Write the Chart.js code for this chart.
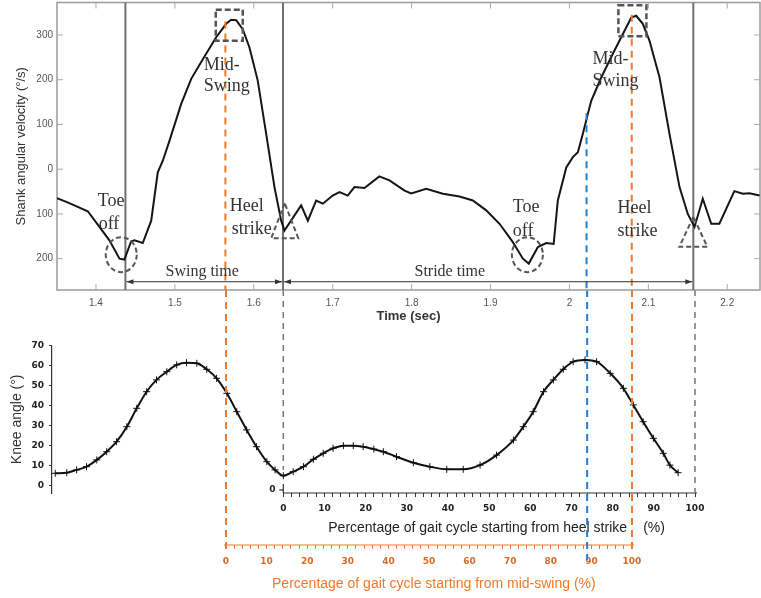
<!DOCTYPE html>
<html>
<head>
<meta charset="utf-8">
<script src="https://cdn.jsdelivr.net/npm/chart.js@4.4.1/dist/chart.umd.min.js"></script>
<style>
  body { margin: 0; background: #fff; }
  #wrap { position: relative; width: 761px; height: 598px; }
  canvas { position: absolute; left: 0; top: 0; }
</style>
</head>
<body>
<div id="wrap">
  <canvas id="kneeChart" width="761" height="598"></canvas>
  <canvas id="shankChart" width="761" height="598"></canvas>
</div>
<script>
// shank angular velocity (deg/s) against time (sec)
const timeSec = [1.3506, 1.364, 1.3896, 1.4044, 1.417, 1.4298, 1.436, 1.4446, 1.4488, 1.4593, 1.47, 1.4783,
  1.4847, 1.4932, 1.508, 1.5207, 1.5354, 1.5523, 1.565, 1.5713, 1.5777, 1.586, 1.5945, 1.605, 1.6157, 1.6262,
  1.6347, 1.6389, 1.66, 1.6685, 1.679, 1.6875, 1.70, 1.7086, 1.719, 1.7276, 1.7403, 1.759, 1.772, 1.791,
  1.7995, 1.8185, 1.8396, 1.8607, 1.8776, 1.8945, 1.9114, 1.9283, 1.941, 1.9485, 1.96, 1.9706, 1.98, 1.9853,
  1.996, 2.0043, 2.0107, 2.017, 2.0276, 2.0403, 2.055, 2.07, 2.0783, 2.0846, 2.093, 2.1015, 2.1142, 2.1268,
  2.1395, 2.15, 2.1585, 2.169, 2.1797, 2.19, 2.209, 2.2198, 2.228, 2.241];
const shankVel = [-65, -74, -94, -129, -159, -200, -202, -161, -159, -165, -115, -7,
  19, 64, 146, 202, 246, 295, 325, 334, 333, 313, 272, 198, 79, -40,
  -115, -137, -81, -115, -70, -77, -59, -51, -59, -40, -42, -16, -25, -48,
  -54, -44, -55, -61, -70, -92, -122, -163, -200, -211, -174, -165, -167, -70,
  4, 27, 38, 79, 153, 205, 258, 310, 339, 343, 325, 287, 205, 79,
  -40, -100, -129, -66, -122, -122, -49, -55, -54, -59];

// knee angle (deg) against % of gait cycle from heel strike
const heelPct = [-55.4, -52.6, -50.2, -47.8, -45.3, -42.9, -40.5, -38, -35.6, -33.2, -30.8, -28.3, -25.9,
  -23.5, -21, -18.6, -16.2, -13.7, -11.3, -8.9, -6.5, -4, -2, 0, 2.4, 4.9, 7.3, 9.7, 12.1, 14.6, 17, 19.4,
  22, 24.3, 27.5, 31.6, 35.6, 39.7, 43.7, 47.8, 51.8, 55.9, 58.3, 60.7, 63.2, 65.6, 68, 70.4, 73.3, 76.1,
  79.4, 82.6, 85, 87.4, 89.9, 92.3, 93.9, 95.9];
const kneeAngle = [6.2, 6.5, 7.9, 9.5, 12.9, 17, 22, 29.5, 38.7, 47, 52.9, 57, 60.4,
  61.5, 61.2, 58.2, 53.7, 46.2, 37, 27.9, 19.5, 12, 7.9, 5, 7, 9.5, 13.2, 16.2, 18.7, 20, 20, 19.5,
  18.3, 17, 14.5, 11.5, 9.5, 8.2, 8.2, 10.3, 15.3, 22.8, 29.5, 37, 47, 52.9, 58.2, 62, 62.9, 62,
  56.2, 48.7, 40.4, 32, 23.7, 16.2, 10.3, 6.5];

// tick labels
const timeTicks = [1.4, 1.5, 1.6, 1.7, 1.8, 1.9, 2, 2.1, 2.2];
const velTicks = [-200, -100, 0, 100, 200, 300];
const kneeTicks = [0, 10, 20, 30, 40, 50, 60, 70];
const pctLabels = [0, 10, 20, 30, 40, 50, 60, 70, 80, 90, 100];
const pctMinor = Array.from({length: 51}, (_, i) => i * 2);

// gait events (sec)
const toeOffTimes = [1.4373];
const heelStrikeTimes = [1.637, 2.157];
const midSwingTimes = [1.564, 2.079];
const blueTime = 2.0217;     // same instant as 73.8 % of heel-strike cycle
const bluePct = 73.8;

const ORANGE = '#f2782a';
const BLUE = '#1f80d6';
const GREY = '#777';

function seg(ctx, x1, y1, x2, y2) {
  ctx.beginPath(); ctx.moveTo(x1, y1); ctx.lineTo(x2, y2); ctx.stroke();
}

function arrowHead(ctx, x, y, dir) {
  ctx.beginPath();
  ctx.moveTo(x, y);
  ctx.lineTo(x - dir * 7, y - 2.5);
  ctx.lineTo(x - dir * 7, y + 2.5);
  ctx.closePath();
  ctx.fill();
}

// no extra room for the first/last tick labels, the layout padding decides
function noEdgePad(s) {
  s.paddingTop = 0; s.paddingBottom = 0; s.paddingLeft = 0; s.paddingRight = 0;
}

const shankDecor = {
  id: 'shankDecor',
  beforeDatasetsDraw(chart) {
    const {ctx, chartArea: a, scales: {x, y}} = chart;
    ctx.save();
    ctx.strokeStyle = '#9a9a9a';
    ctx.lineWidth = 1.5;
    ctx.strokeRect(a.left, a.top, a.right - a.left, a.bottom - a.top);
    ctx.lineWidth = 1;
    ctx.strokeStyle = '#aaa';
    x.ticks.forEach(t => {
      const px = x.getPixelForValue(t.value);
      seg(ctx, px, a.bottom, px, a.bottom - 6);
      seg(ctx, px, a.top, px, a.top + 6);
    });
    y.ticks.forEach(t => {
      const py = y.getPixelForValue(t.value);
      seg(ctx, a.left, py, a.left + 6, py);
      seg(ctx, a.right, py, a.right - 6, py);
    });
    // event lines
    ctx.strokeStyle = '#707070';
    ctx.lineWidth = 2;
    toeOffTimes.concat(heelStrikeTimes).forEach(t => {
      const px = x.getPixelForValue(t);
      seg(ctx, px, a.top, px, a.bottom);
    });
    ctx.restore();
  },
  afterDatasetsDraw(chart) {
    const {ctx, chartArea: a, scales: {x, y}} = chart;
    const X = v => x.getPixelForValue(v), Y = v => y.getPixelForValue(v);
    ctx.save();

    // coloured dashed markers
    ctx.lineWidth = 2;
    ctx.setLineDash([7, 5]);
    ctx.strokeStyle = ORANGE;
    seg(ctx, X(midSwingTimes[0]), Y(330), X(midSwingTimes[0]), a.bottom);
    seg(ctx, X(midSwingTimes[1]), Y(345), X(midSwingTimes[1]), a.bottom);
    ctx.strokeStyle = BLUE;
    seg(ctx, X(blueTime), Y(125), X(blueTime), a.bottom);

    // toe-off circles
    ctx.strokeStyle = '#555';
    ctx.lineWidth = 2;
    ctx.setLineDash([5, 3]);
    [[1.432, -191], [1.9467, -191]].forEach(([t, v]) => {
      ctx.beginPath();
      ctx.ellipse(X(t), Y(v), 15.5, 17.5, 0, 0, Math.PI * 2);
      ctx.stroke();
    });
    // mid-swing squares
    ctx.lineWidth = 2.5;
    ctx.setLineDash([6, 3]);
    [[1.5689, 322, 27, 31], [2.0798, 332, 28, 31]].forEach(([t, v, w, h]) => {
      ctx.strokeRect(X(t) - w / 2, Y(v) - h / 2, w, h);
    });
    // heel-strike triangles
    ctx.lineWidth = 2;
    ctx.setLineDash([5, 3]);
    [[1.6392, -115, 27, 35], [2.157, -140, 28, 30]].forEach(([t, v, w, h]) => {
      const cx = X(t), cy = Y(v);
      ctx.beginPath();
      ctx.moveTo(cx, cy - h / 2);
      ctx.lineTo(cx - w / 2, cy + h / 2);
      ctx.lineTo(cx + w / 2, cy + h / 2);
      ctx.closePath();
      ctx.stroke();
    });

    // labels
    ctx.setLineDash([]);
    ctx.fillStyle = '#333';
    ctx.font = '18px "Liberation Serif"';
    ctx.textBaseline = 'alphabetic';
    ctx.textAlign = 'left';
    [['Toe', 1.4022, -82], ['off', 1.4034, -134], ['Mid-', 1.5365, 222], ['Swing', 1.5365, 175],
     ['Heel', 1.5695, -93], ['strike', 1.572, -145], ['Toe', 1.9283, -96], ['off', 1.9283, -149],
     ['Mid-', 2.0293, 236], ['Swing', 2.0293, 186], ['Heel', 2.061, -98], ['strike', 2.061, -149]]
      .forEach(([s, t, v]) => ctx.fillText(s, X(t), Y(v)));

    ctx.font = '16px "Liberation Serif"';
    ctx.textAlign = 'center';
    ctx.fillText('Swing time', X(1.5346), Y(-239));
    ctx.fillText('Stride time', X(1.8484), Y(-239));

    // time arrows
    const ay = Y(-251.5);
    ctx.strokeStyle = '#333';
    ctx.lineWidth = 1;
    const spans = [[toeOffTimes[0], heelStrikeTimes[0]], [heelStrikeTimes[0], heelStrikeTimes[1]]];
    spans.forEach(([t1, t2]) => {
      const x1 = X(t1) + 1, x2 = X(t2) - 1;
      seg(ctx, x1, ay, x2, ay);
      arrowHead(ctx, x1, ay, -1);
      arrowHead(ctx, x2, ay, 1);
    });
    ctx.restore();
  }
};

const shankChart = new Chart(document.getElementById('shankChart'), {
  type: 'line',
  data: {
    datasets: [{
      data: timeSec.map((t, i) => ({x: t, y: shankVel[i]})),
      borderColor: '#151515',
      borderWidth: 2,
      pointRadius: 0,
      tension: 0
    }]
  },
  options: {
    responsive: false,
    animation: false,
    devicePixelRatio: 1,
    layout: {padding: {top: 2.5, right: 1, left: 0, bottom: 268}},
    plugins: {legend: {display: false}, tooltip: {enabled: false}},
    scales: {
      x: {
        type: 'linear', min: 1.3506, max: 2.2415,
        afterBuildTicks: s => { s.ticks = timeTicks.map(v => ({value: v})); },
        afterFit: s => { s.height = 40; noEdgePad(s); },
        grid: {display: false, drawTicks: false},
        border: {display: false},
        ticks: {color: '#555', font: {family: 'Liberation Sans', size: 10}, padding: 7,
          maxRotation: 0, autoSkip: false, callback: v => String(v)},
        title: {display: true, text: 'Time (sec)', color: '#333',
          font: {family: 'Liberation Sans', size: 13, weight: 'bold'}, padding: {top: 0, bottom: 6}}
      },
      y: {
        min: -270, max: 372.6,
        afterBuildTicks: s => { s.ticks = velTicks.map(v => ({value: v})); },
        afterFit: s => { s.width = 57; noEdgePad(s); },
        grid: {display: false, drawTicks: false},
        border: {display: false},
        ticks: {color: '#555', font: {family: 'Liberation Sans', size: 10}, padding: 4,
          callback: v => String(Math.abs(v))},
        title: {display: true, text: 'Shank angular velocity (°/s)', color: '#333',
          font: {family: 'Liberation Sans', size: 13}, padding: {top: 14, bottom: 0}}
      }
    }
  },
  plugins: [shankDecor]
});

const kneeDecor = {
  id: 'kneeDecor',
  afterDraw(chart) {
    const {ctx, chartArea: a, scales: {x, x2, y}} = chart;
    const joinY = shankChart.chartArea.bottom;
    ctx.save();

    // heel-strike axis line and its little y-origin
    ctx.strokeStyle = '#333';
    ctx.lineWidth = 1.2;
    const x0 = x.getPixelForValue(0);
    seg(ctx, x0, a.bottom, x.getPixelForValue(100) + 2, a.bottom);
    seg(ctx, x0, a.bottom - 9, x0, a.bottom);
    seg(ctx, x0 - 4, a.bottom - 3, x0, a.bottom - 3);
    ctx.fillStyle = '#222';
    ctx.font = 'bold 9px "DejaVu Sans"';
    ctx.textAlign = 'center';
    ctx.textBaseline = 'middle';
    ctx.fillText('0', x0 - 11, a.bottom - 3);

    // mid-swing axis line
    ctx.strokeStyle = ORANGE;
    seg(ctx, x2.getPixelForValue(0) - 2, x2.top, x2.getPixelForValue(100) + 2, x2.top);

    // axis titles
    ctx.font = '14px "Liberation Sans"';
    ctx.textBaseline = 'alphabetic';
    ctx.fillStyle = '#222';
    ctx.textAlign = 'right';
    ctx.fillText('Percentage of gait cycle starting from heel strike', x.getPixelForValue(83.5), x.top + 39);
    ctx.textAlign = 'left';
    ctx.fillText('(%)', x.getPixelForValue(87.4), x.top + 39);
    ctx.fillStyle = ORANGE;
    ctx.textAlign = 'center';
    ctx.fillText('Percentage of gait cycle starting from mid-swing (%)', x2.getPixelForValue(51.2), x2.top + 43);

    // dashed guides carried down from the top panel
    ctx.lineWidth = 2;
    ctx.setLineDash([7, 5]);
    ctx.strokeStyle = ORANGE;
    [0, 100].forEach(p => {
      const px = x2.getPixelForValue(p);
      seg(ctx, px, joinY, px, x2.top + 4);
    });
    ctx.strokeStyle = BLUE;
    seg(ctx, x.getPixelForValue(bluePct), joinY, x.getPixelForValue(bluePct), x2.top + 15);
    ctx.lineWidth = 1.5;
    ctx.setLineDash([6, 5]);
    ctx.strokeStyle = GREY;
    seg(ctx, x0, joinY, x0, y.getPixelForValue(8));
    seg(ctx, x.getPixelForValue(100), joinY, x.getPixelForValue(100), a.bottom);
    ctx.restore();
  }
};

const tickFont = {family: 'DejaVu Sans', size: 9, weight: 'bold'};

const kneeChart = new Chart(document.getElementById('kneeChart'), {
  type: 'line',
  data: {
    datasets: [{
      data: heelPct.map((p, i) => ({x: p, y: kneeAngle[i]})),
      borderColor: '#111',
      borderWidth: 2,
      pointStyle: 'cross',
      pointRadius: 3.5,
      pointBorderWidth: 1,
      pointBorderColor: '#111',
      cubicInterpolationMode: 'monotone'
    }]
  },
  options: {
    responsive: false,
    animation: false,
    devicePixelRatio: 1,
    layout: {padding: {top: 345.7, left: 0, right: 66, bottom: 0}},
    plugins: {legend: {display: false}, tooltip: {enabled: false}},
    scales: {
      x: {
        type: 'linear', position: 'bottom', weight: 0, min: -56.18, max: 100,
        afterBuildTicks: s => { s.ticks = pctMinor.map(v => ({value: v})); },
        afterFit: s => { s.height = 52; },
        grid: {drawOnChartArea: false, drawTicks: true, tickLength: 4, color: '#333'},
        border: {display: false},
        ticks: {color: '#222', font: tickFont, padding: 6, autoSkip: false, maxRotation: 0,
          callback: v => pctLabels.includes(v) ? String(v) : ''}
      },
      x2: {
        type: 'linear', axis: 'x', position: 'bottom', weight: 1, min: -42.86, max: 115.52,
        afterBuildTicks: s => { s.ticks = pctMinor.map(v => ({value: v})); },
        afterFit: s => { s.height = 53; },
        grid: {drawOnChartArea: false, drawTicks: true, tickLength: 4, color: ORANGE},
        border: {display: false},
        ticks: {color: '#d86a22', font: tickFont, padding: 7, autoSkip: false, maxRotation: 0,
          callback: v => pctLabels.includes(v) ? String(v) : ''}
      },
      y: {
        min: -3.65, max: 70,
        afterBuildTicks: s => { s.ticks = kneeTicks.map(v => ({value: v})); },
        afterFit: s => { s.width = 52; },
        grid: {drawOnChartArea: false, drawTicks: true, tickLength: 3, color: '#333'},
        border: {display: true, color: '#333', width: 1.2},
        ticks: {color: '#222', font: tickFont, padding: 5},
        title: {display: true, text: 'Knee angle (°)', color: '#333',
          font: {family: 'Liberation Sans', size: 14}, padding: {top: 9, bottom: 0}}
      }
    }
  },
  plugins: [kneeDecor]
});
</script>
</body>
</html>
